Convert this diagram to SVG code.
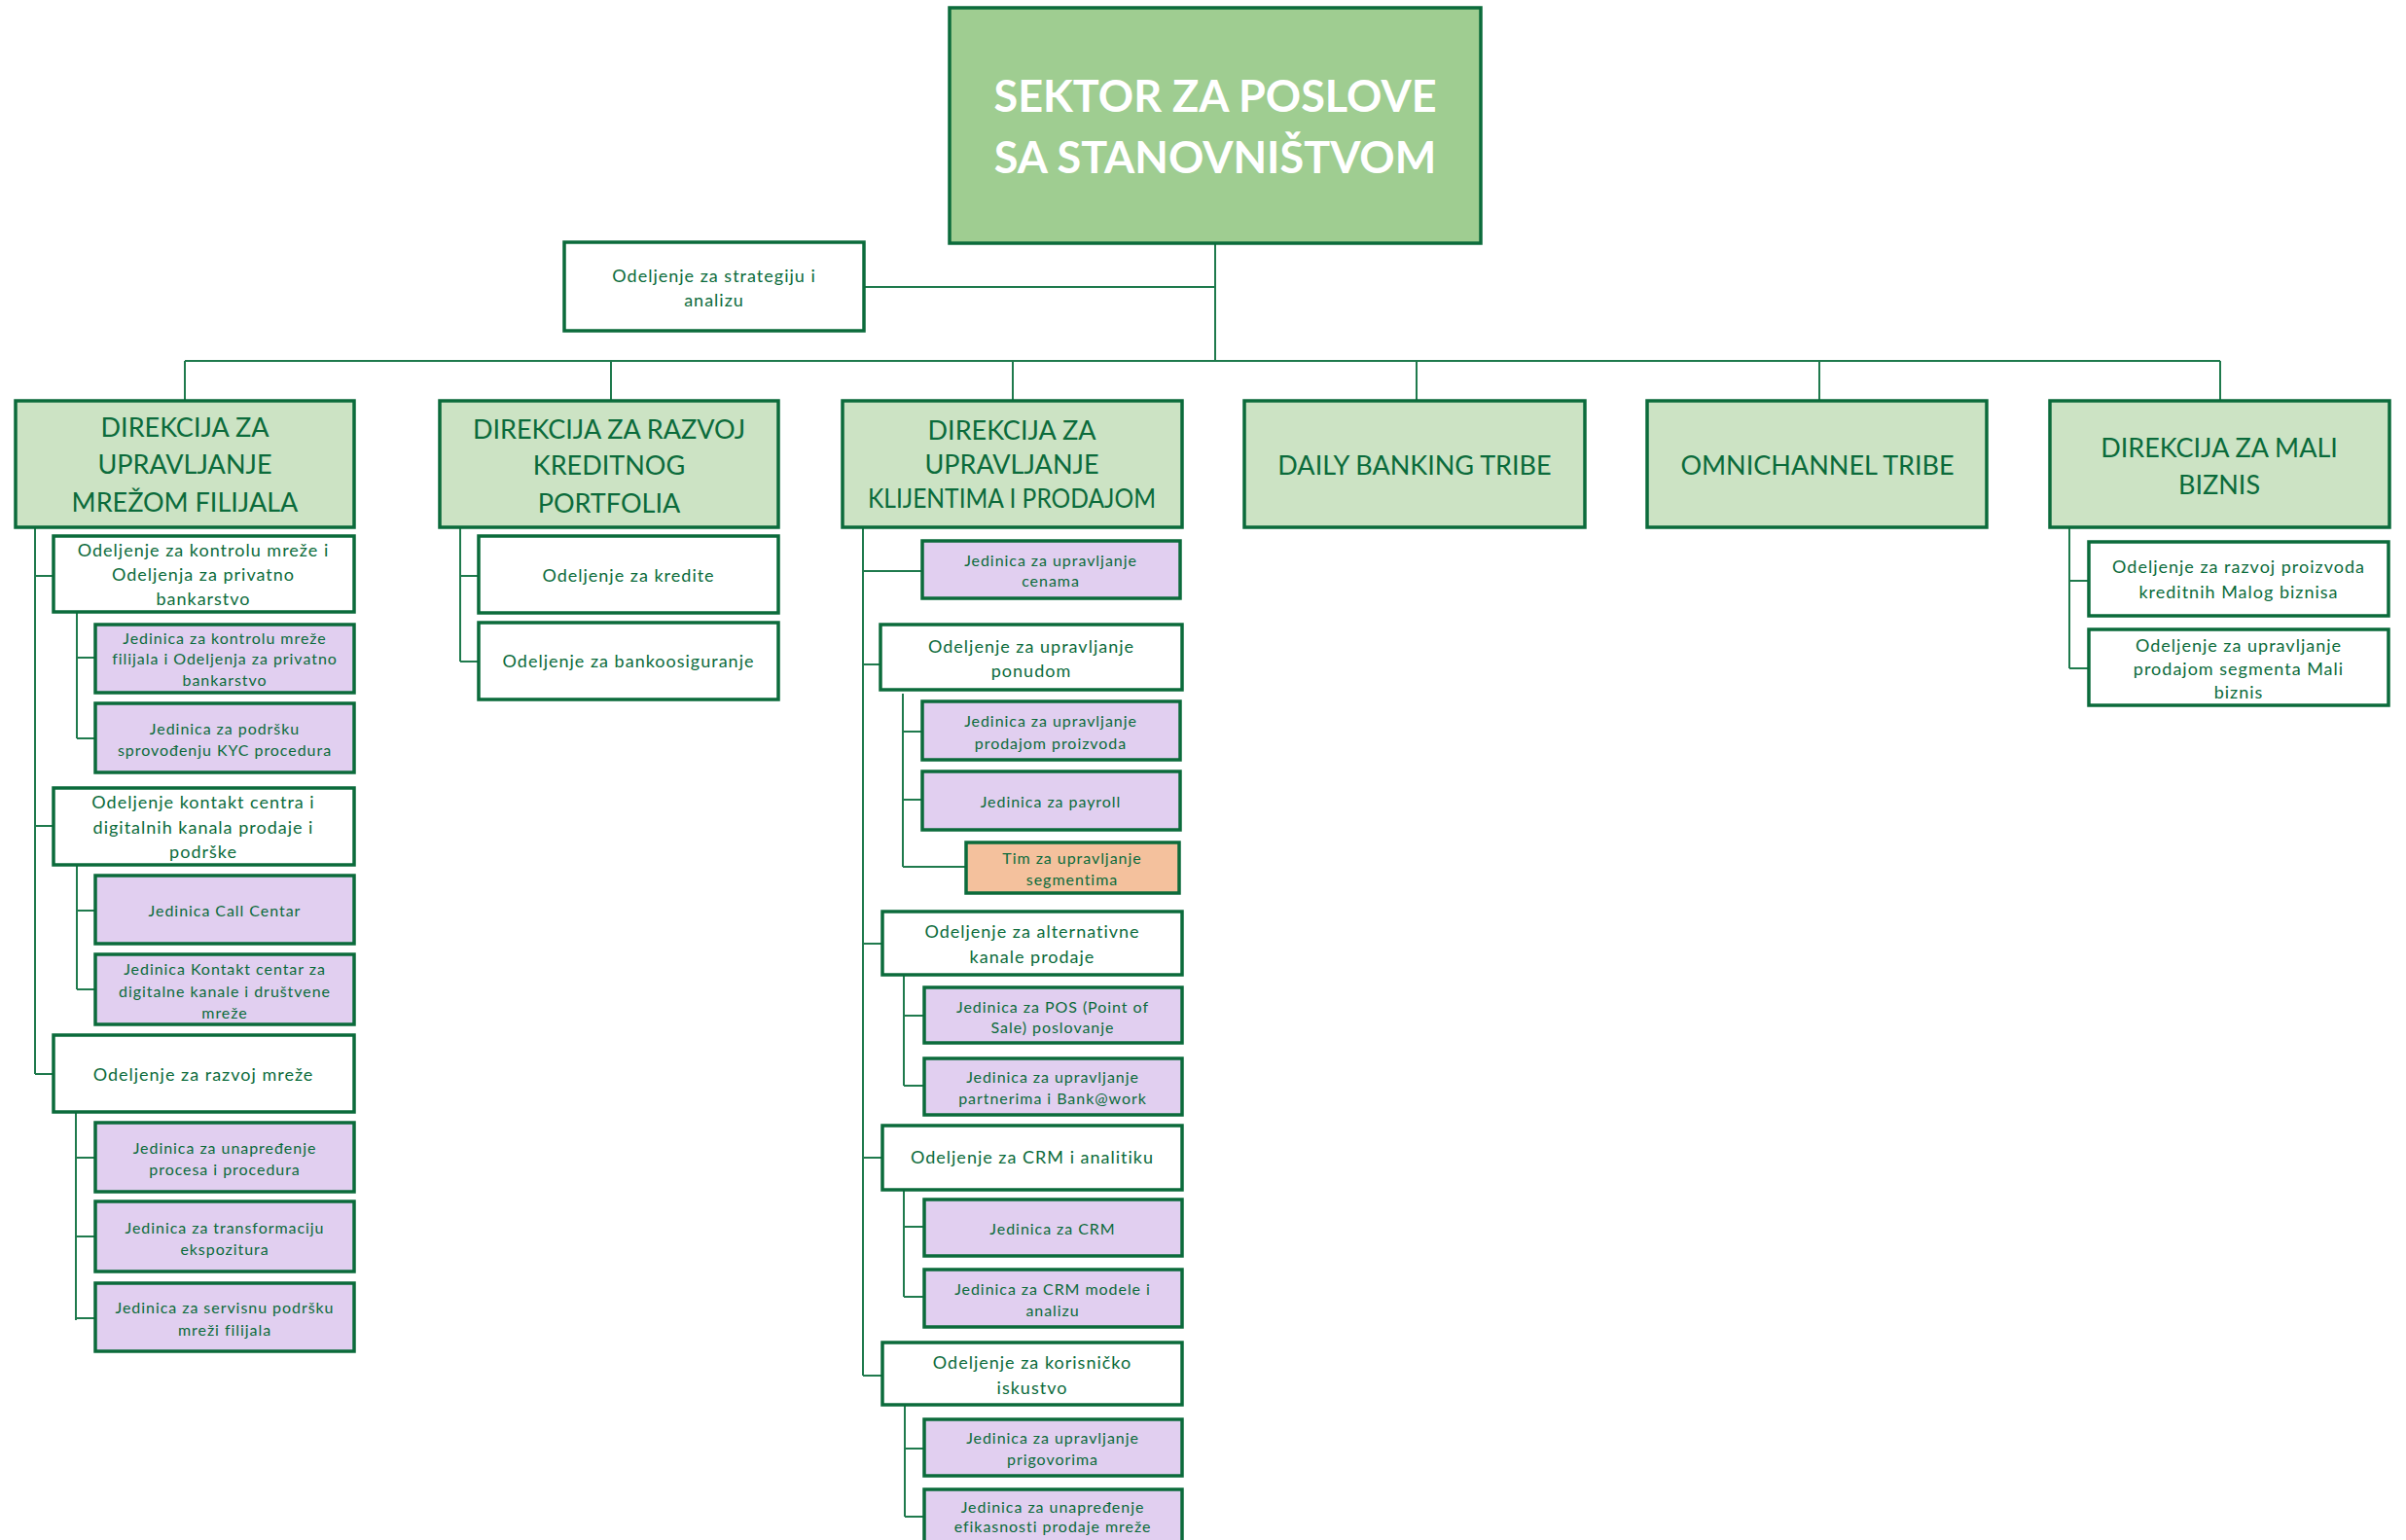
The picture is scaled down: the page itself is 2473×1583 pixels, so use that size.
<svg xmlns="http://www.w3.org/2000/svg" width="2473" height="1583" viewBox="0 0 2473 1583">
<style>
.bx{stroke:#0b6b3b;stroke-width:3.5}
.top{fill:#9fcd91}
.dir{fill:#cce3c4}
.odj{fill:#ffffff}
.jed{fill:#e1cff0}
.tim{fill:#f4c19d}
.cn{stroke:#1f7a4d;stroke-width:2;fill:none}
text{font-family:Lato,"Open Sans","Liberation Sans",sans-serif;fill:#0b6b3b;text-anchor:middle}
.tt{font-size:45px;font-weight:bold;fill:#ffffff}
.td{font-size:27px}
.to{font-size:18px;letter-spacing:1px}
.tj{font-size:16px;letter-spacing:0.95px}
</style>
<rect width="2473" height="1583" fill="#ffffff"/>
<g id="connectors">
<path class="cn" d="M1249,250V371M888,295H1249M190,371H2282M190,371V412M628,371V412M1041,371V412M1456,371V412M1870,371V412M2282,371V412"/>
<path class="cn" d="M36,542V1104M36,592H55M36,849H55M36,1104H55M79,629V759M79,676H98M79,759H98M79,889V1017M79,936H98M79,1017H98M78,1143V1357M78,1190H98M78,1271H98M78,1355H98"/>
<path class="cn" d="M473,542V680M473,592H492M473,680H492"/>
<path class="cn" d="M887,542V1414M887,587H948M887,683H905M887,970H907M887,1190H907M887,1414H907M928,713V891M928,752H948M928,822H948M928,891H993M929,1002V1116M929,1044H950M929,1116H950M929,1223V1333M929,1261H950M929,1333H950M930,1444V1559M930,1489H950M930,1559H950"/>
<path class="cn" d="M2127,542V687M2127,597H2147M2127,687H2147"/>
</g>
<g id="sektor"><rect class="bx top" x="976" y="8" width="546" height="242"/><text class="tt" x="1249" y="115">SEKTOR ZA POSLOVE</text><text class="tt" x="1249" y="178">SA STANOVNIŠTVOM</text></g>
<g id="strategija"><rect class="bx odj" x="580" y="249" width="308" height="91"/><text class="to" x="734" y="290">Odeljenje za strategiju i</text><text class="to" x="734" y="315">analizu</text></g>
<g id="dir-mreza"><rect class="bx dir" x="16" y="412" width="348" height="130"/><text class="td" x="190" y="449">DIREKCIJA ZA</text><text class="td" x="190" y="487">UPRAVLJANJE</text><text class="td" x="190" y="526">MREŽOM FILIJALA</text></g>
<g id="o-kontrola"><rect class="bx odj" x="55" y="551" width="309" height="78"/><text class="to" x="209" y="572">Odeljenje za kontrolu mreže  i</text><text class="to" x="209" y="597">Odeljenja za privatno</text><text class="to" x="209" y="622">bankarstvo</text></g>
<g id="j-kontrola"><rect class="bx jed" x="98" y="642" width="266" height="70"/><text class="tj" x="231" y="662">Jedinica za kontrolu mreže</text><text class="tj" x="231" y="683">filijala i Odeljenja za privatno</text><text class="tj" x="231" y="705">bankarstvo</text></g>
<g id="j-kyc"><rect class="bx jed" x="98" y="723" width="266" height="71"/><text class="tj" x="231" y="755">Jedinica za podršku</text><text class="tj" x="231" y="777">sprovođenju KYC procedura</text></g>
<g id="o-kontakt"><rect class="bx odj" x="55" y="810" width="309" height="79"/><text class="to" x="209" y="831">Odeljenje kontakt centra i</text><text class="to" x="209" y="857">digitalnih kanala prodaje i</text><text class="to" x="209" y="882">podrške</text></g>
<g id="j-call"><rect class="bx jed" x="98" y="900" width="266" height="70"/><text class="tj" x="231" y="942">Jedinica Call Centar</text></g>
<g id="j-kontakt"><rect class="bx jed" x="98" y="981" width="266" height="72"/><text class="tj" x="231" y="1002">Jedinica Kontakt centar za</text><text class="tj" x="231" y="1025">digitalne kanale i društvene</text><text class="tj" x="231" y="1047">mreže</text></g>
<g id="o-razvoj-mreze"><rect class="bx odj" x="55" y="1064" width="309" height="79"/><text class="to" x="209" y="1111">Odeljenje za razvoj mreže</text></g>
<g id="j-procesi"><rect class="bx jed" x="98" y="1154" width="266" height="71"/><text class="tj" x="231" y="1186">Jedinica za unapređenje</text><text class="tj" x="231" y="1208">procesa i procedura</text></g>
<g id="j-transf"><rect class="bx jed" x="98" y="1235" width="266" height="72"/><text class="tj" x="231" y="1268">Jedinica za transformaciju</text><text class="tj" x="231" y="1290">ekspozitura</text></g>
<g id="j-servis"><rect class="bx jed" x="98" y="1319" width="266" height="70"/><text class="tj" x="231" y="1350">Jedinica za servisnu podršku</text><text class="tj" x="231" y="1373">mreži filijala</text></g>
<g id="dir-kredit"><rect class="bx dir" x="452" y="412" width="348" height="130"/><text class="td" x="626" y="451">DIREKCIJA ZA RAZVOJ</text><text class="td" x="626" y="488">KREDITNOG</text><text class="td" x="626" y="527">PORTFOLIA</text></g>
<g id="o-krediti"><rect class="bx odj" x="492" y="551" width="308" height="79"/><text class="to" x="646" y="598">Odeljenje za kredite</text></g>
<g id="o-banko"><rect class="bx odj" x="492" y="640" width="308" height="79"/><text class="to" x="646" y="686">Odeljenje za bankoosiguranje</text></g>
<g id="dir-klijenti"><rect class="bx dir" x="866" y="412" width="349" height="130"/><text class="td" x="1040" y="452">DIREKCIJA ZA</text><text class="td" x="1040" y="487">UPRAVLJANJE</text><text class="td" x="1040" y="522" textLength="296" lengthAdjust="spacingAndGlyphs">KLIJENTIMA I PRODAJOM</text></g>
<g id="j-cene"><rect class="bx jed" x="948" y="556" width="265" height="59"/><text class="tj" x="1080" y="582">Jedinica za upravljanje</text><text class="tj" x="1080" y="603">cenama</text></g>
<g id="o-ponuda"><rect class="bx odj" x="905" y="642" width="310" height="67"/><text class="to" x="1060" y="671">Odeljenje za upravljanje</text><text class="to" x="1060" y="696">ponudom</text></g>
<g id="j-prodaja"><rect class="bx jed" x="948" y="721" width="265" height="60"/><text class="tj" x="1080" y="747">Jedinica za upravljanje</text><text class="tj" x="1080" y="770">prodajom proizvoda</text></g>
<g id="j-payroll"><rect class="bx jed" x="948" y="793" width="265" height="60"/><text class="tj" x="1080" y="830">Jedinica za payroll</text></g>
<g id="tim-segmenti"><rect class="bx tim" x="993" y="866" width="219" height="52"/><text class="tj" x="1102" y="888">Tim za upravljanje</text><text class="tj" x="1102" y="910">segmentima</text></g>
<g id="o-alt"><rect class="bx odj" x="907" y="937" width="308" height="65"/><text class="to" x="1061" y="964">Odeljenje za alternativne</text><text class="to" x="1061" y="990">kanale prodaje</text></g>
<g id="j-pos"><rect class="bx jed" x="950" y="1015" width="265" height="57"/><text class="tj" x="1082" y="1041">Jedinica za POS (Point of</text><text class="tj" x="1082" y="1062">Sale) poslovanje</text></g>
<g id="j-partneri"><rect class="bx jed" x="950" y="1088" width="265" height="58"/><text class="tj" x="1082" y="1113">Jedinica za upravljanje</text><text class="tj" x="1082" y="1135">partnerima i Bank@work</text></g>
<g id="o-crm"><rect class="bx odj" x="907" y="1157" width="308" height="66"/><text class="to" x="1061" y="1196">Odeljenje za CRM i analitiku</text></g>
<g id="j-crm"><rect class="bx jed" x="950" y="1233" width="265" height="58"/><text class="tj" x="1082" y="1269">Jedinica za CRM</text></g>
<g id="j-crm-modeli"><rect class="bx jed" x="950" y="1305" width="265" height="59"/><text class="tj" x="1082" y="1331">Jedinica za CRM modele i</text><text class="tj" x="1082" y="1353">analizu</text></g>
<g id="o-iskustvo"><rect class="bx odj" x="907" y="1380" width="308" height="64"/><text class="to" x="1061" y="1407">Odeljenje za korisničko</text><text class="to" x="1061" y="1433">iskustvo</text></g>
<g id="j-prigovori"><rect class="bx jed" x="950" y="1459" width="265" height="58"/><text class="tj" x="1082" y="1484">Jedinica za upravljanje</text><text class="tj" x="1082" y="1506">prigovorima</text></g>
<g id="j-efikasnost"><rect class="bx jed" x="950" y="1531" width="265" height="70"/><text class="tj" x="1082" y="1555">Jedinica za unapređenje</text><text class="tj" x="1082" y="1575">efikasnosti prodaje mreže</text></g>
<g id="daily"><rect class="bx dir" x="1279" y="412" width="350" height="130"/><text class="td" x="1454" y="488">DAILY BANKING TRIBE</text></g>
<g id="omni"><rect class="bx dir" x="1693" y="412" width="349" height="130"/><text class="td" x="1868" y="488">OMNICHANNEL TRIBE</text></g>
<g id="dir-mali"><rect class="bx dir" x="2107" y="412" width="349" height="130"/><text class="td" x="2281" y="470">DIREKCIJA ZA MALI</text><text class="td" x="2281" y="508">BIZNIS</text></g>
<g id="o-mali-razvoj"><rect class="bx odj" x="2147" y="557" width="308" height="76"/><text class="to" x="2301" y="589">Odeljenje za razvoj proizvoda</text><text class="to" x="2301" y="615">kreditnih Malog biznisa</text></g>
<g id="o-mali-prodaja"><rect class="bx odj" x="2147" y="647" width="308" height="78"/><text class="to" x="2301" y="670">Odeljenje za upravljanje</text><text class="to" x="2301" y="694">prodajom segmenta Mali</text><text class="to" x="2301" y="718">biznis</text></g>
</svg>
